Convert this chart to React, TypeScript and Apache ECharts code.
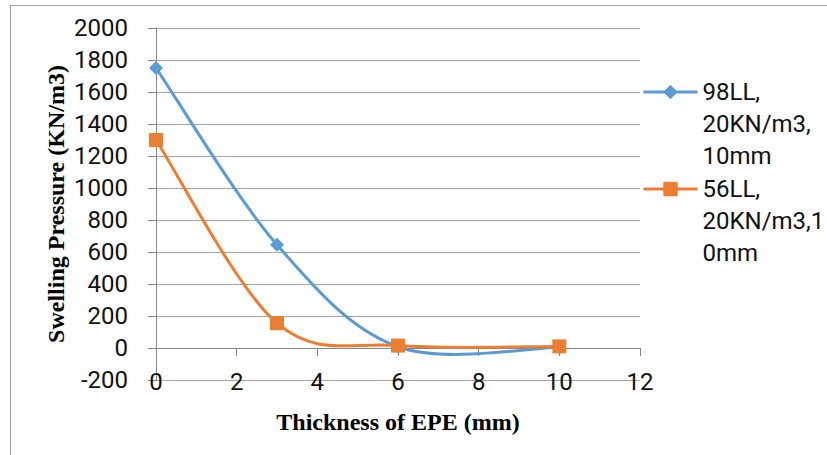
import React, { useEffect, useRef } from "react";
import * as echarts from "echarts";

const thickness = [0, 3, 6, 10];
const series98LL = [1750, 645, 8, 5];
const series56LL = [1300, 155, 15, 10];
const seriesNames = ["98LL,\n20KN/m3,\n10mm", "56LL,\n20KN/m3,1\n0mm"];
const seriesColors = ["#5B9BD5", "#ED7D31"];
const xTitle = "Thickness of EPE (mm)";
const yTitle = "Swelling Pressure (KN/m3)";

// Excel-style smoothed curve (Catmull-Rom, tension 1/6) through the data points
function smoothCurveSeries(values: number[], color: string, name: string) {
  return {
    type: "custom",
    name: name + "-curve",
    silent: true,
    data: thickness.map((x, i) => [x, values[i]]),
    renderItem: (params: any, api: any) => {
      const i = params.dataIndex;
      const n = thickness.length;
      if (i >= n - 1) return null;
      const p = (k: number) => {
        const kk = Math.max(0, Math.min(n - 1, k));
        return api.coord([thickness[kk], values[kk]]);
      };
      const p0 = p(i - 1), p1 = p(i), p2 = p(i + 1), p3 = p(i + 2);
      return {
        type: "bezierCurve",
        shape: {
          x1: p1[0], y1: p1[1],
          cpx1: p1[0] + (p2[0] - p0[0]) / 6,
          cpy1: p1[1] + (p2[1] - p0[1]) / 6,
          cpx2: p2[0] - (p3[0] - p1[0]) / 6,
          cpy2: p2[1] - (p3[1] - p1[1]) / 6,
          x2: p2[0], y2: p2[1],
        },
        style: { stroke: color, lineWidth: 3, fill: "none", lineCap: "round" },
      };
    },
  };
}

export default function App() {
  const ref = useRef<HTMLDivElement>(null);
  useEffect(() => {
    if (!ref.current) return;
    const chart = echarts.init(ref.current, null, { renderer: "svg" });
    const tickFont = { fontFamily: "Roboto", fontSize: 24, color: "#111" };
    const nameFont = { fontFamily: "Liberation Serif", fontSize: 24, fontWeight: "bold", color: "#000" };
    const legendCommon = {
      orient: "vertical",
      left: 642,
      padding: 0,
      itemGap: 0,
      itemWidth: 54,
      itemHeight: 18,
      formatter: (name: string) => "\n\n" + name,
      textStyle: { fontFamily: "Roboto", fontSize: 24, color: "#111", lineHeight: 32 },
    };
    chart.setOption({
      animation: false,
      backgroundColor: "#fff",
      graphic: [
        {
          type: "rect",
          shape: { x: 10.5, y: 5.5, width: 900, height: 600 },
          style: { fill: "none", stroke: "#a0a0a0", lineWidth: 1 },
          silent: true,
        },
      ],
      grid: { left: 156, right: 187, top: 28, bottom: 75, containLabel: false, outerBoundsMode: "none" },
      legend: [
        {
          ...legendCommon,
          top: 12,
          data: [{ name: seriesNames[0], lineStyle: { width: 3, opacity: 1, color: seriesColors[0] } }],
        },
        {
          ...legendCommon,
          top: 109,
          data: [{ name: seriesNames[1], lineStyle: { width: 3, opacity: 1, color: seriesColors[1] } }],
        },
      ],
      xAxis: {
        type: "value",
        min: 0,
        max: 12,
        interval: 2,
        name: xTitle,
        nameLocation: "middle",
        nameGap: 30,
        nameMoveOverlap: false,
        nameTextStyle: nameFont,
        axisLine: { show: true, onZero: true, lineStyle: { color: "#888", width: 1 } },
        axisTick: { show: true, length: 8, lineStyle: { color: "#888" } },
        axisLabel: { ...tickFont, margin: -10 },
        splitLine: { show: false },
      },
      yAxis: {
        type: "value",
        min: -200,
        max: 2000,
        interval: 200,
        name: yTitle,
        nameLocation: "middle",
        nameGap: 88,
        nameMoveOverlap: false,
        nameTextStyle: nameFont,
        axisLine: { show: true, lineStyle: { color: "#888", width: 1 } },
        axisTick: { show: true, length: 8, lineStyle: { color: "#888" } },
        axisLabel: { ...tickFont, margin: 28, formatter: (v: number) => String(v) },
        splitLine: { show: true, lineStyle: { color: "#a6a6a6", width: 1 } },
      },
      series: [
        smoothCurveSeries(series98LL, seriesColors[0], "98LL"),
        smoothCurveSeries(series56LL, seriesColors[1], "56LL"),
        {
          name: seriesNames[0],
          type: "line",
          data: thickness.map((x, i) => [x, series98LL[i]]),
          symbol: "diamond",
          symbolSize: 14,
          itemStyle: { color: seriesColors[0] },
          lineStyle: { color: seriesColors[0], width: 3, opacity: 0 },
          z: 3,
        },
        {
          name: seriesNames[1],
          type: "line",
          data: thickness.map((x, i) => [x, series56LL[i]]),
          symbol: "rect",
          symbolSize: 14,
          itemStyle: { color: seriesColors[1] },
          lineStyle: { color: seriesColors[1], width: 3, opacity: 0 },
          z: 4,
        },
      ],
    });
    return () => chart.dispose();
  }, []);
  return (
    <div style={{ position: "fixed", left: 0, top: 0, width: 827, height: 455, background: "#fff" }}>
      <div ref={ref} style={{ width: 827, height: 455 }} />
    </div>
  );
}
